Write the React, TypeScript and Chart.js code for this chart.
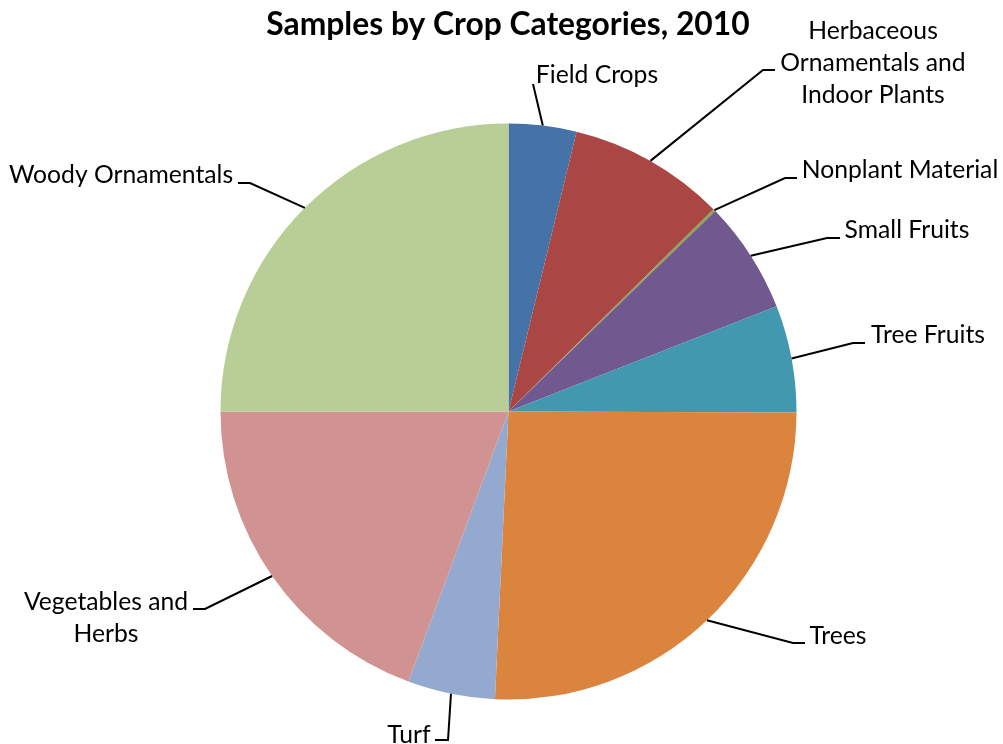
import React, { useEffect, useRef } from "react";
import { Chart, registerables } from "chart.js";

Chart.register(...registerables);

// Crop categories, in clockwise order from 12 o'clock
const categories = [
  "Field Crops",
  "Herbaceous Ornamentals and Indoor Plants",
  "Nonplant Material",
  "Small Fruits",
  "Tree Fruits",
  "Trees",
  "Turf",
  "Vegetables and Herbs",
  "Woody Ornamentals",
];

// Share of samples (%)
const sharePercent = [3.8, 8.8, 0.15, 6.3, 6.0, 25.7, 4.9, 19.35, 25.0];

const sliceColors = [
  "#4572A7",
  "#AA4643",
  "#89A54E",
  "#71588F",
  "#4198AF",
  "#DB843D",
  "#93A9CF",
  "#D19392",
  "#B9CD96",
];

// Label text, wrapped as drawn
const labelLines = [
  ["Field Crops"],
  ["Herbaceous", "Ornamentals and", "Indoor Plants"],
  ["Nonplant Material"],
  ["Small Fruits"],
  ["Tree Fruits"],
  ["Trees"],
  ["Turf"],
  ["Vegetables and", "Herbs"],
  ["Woody Ornamentals"],
];

// Label placement: text centre, leader-line bend and leader-line end
const labelLayout = [
  { x: 597, y: 75, bend: [533, 84], end: [533, 84] },
  { x: 873, y: 63, bend: [763, 70], end: [775, 70] },
  { x: 900, y: 170, bend: [785, 178], end: [797, 178] },
  { x: 907, y: 230, bend: [827, 238], end: [840, 238] },
  { x: 928, y: 335, bend: [853, 343], end: [865, 343] },
  { x: 838, y: 636, bend: [793, 643], end: [805, 643] },
  { x: 409, y: 735, bend: [448, 740], end: [435, 740] },
  { x: 106, y: 618, bend: [205, 609], end: [193, 609] },
  { x: 121, y: 175, bend: [250, 183], end: [238, 183] },
];

const TITLE = "Samples by Crop Categories, 2010";
const FONT = "Lato, 'Open Sans', sans-serif";
const LABEL_SIZE = 24.7;
const LINE_GAP = 32;

const leaderLabels = {
  id: "leaderLabels",
  afterDraw(chart: Chart) {
    const ctx = chart.ctx;
    const meta = chart.getDatasetMeta(0);
    ctx.save();

    // title
    ctx.fillStyle = "#000";
    ctx.font = `bold 31.8px ${FONT}`;
    ctx.textAlign = "center";
    ctx.textBaseline = "middle";
    ctx.fillText(TITLE, 508, 25);

    meta.data.forEach((el: any, i: number) => {
      const { x, y, startAngle, endAngle, outerRadius } = el.getProps(
        ["x", "y", "startAngle", "endAngle", "outerRadius"],
        true
      );
      const mid = (startAngle + endAngle) / 2;
      const sx = x + Math.cos(mid) * outerRadius;
      const sy = y + Math.sin(mid) * outerRadius;
      const lay = labelLayout[i];

      ctx.strokeStyle = "#000";
      ctx.lineWidth = 2;
      ctx.beginPath();
      ctx.moveTo(sx, sy);
      ctx.lineTo(lay.bend[0], lay.bend[1]);
      ctx.lineTo(lay.end[0], lay.end[1]);
      ctx.stroke();

      ctx.font = `${LABEL_SIZE}px ${FONT}`;
      ctx.textAlign = "center";
      ctx.textBaseline = "middle";
      const lines = labelLines[i];
      const top = lay.y - ((lines.length - 1) * LINE_GAP) / 2;
      lines.forEach((t, k) => ctx.fillText(t, lay.x, top + k * LINE_GAP));
    });
    ctx.restore();
  },
};

export default function App() {
  const ref = useRef<HTMLCanvasElement>(null);

  useEffect(() => {
    if (!ref.current) return;
    const chart = new Chart(ref.current, {
      type: "pie",
      data: {
        labels: categories,
        datasets: [
          {
            data: sharePercent,
            backgroundColor: sliceColors,
            borderWidth: 0,
          },
        ],
      },
      options: {
        responsive: false,
        animation: false,
        layout: {
          padding: { left: 220.5, right: 206.5, top: 123.5, bottom: 44.5 },
        },
        plugins: {
          legend: { display: false },
          title: { display: false },
          tooltip: { enabled: false },
        },
      },
      plugins: [leaderLabels],
    });
    return () => chart.destroy();
  }, []);

  return (
    <div style={{ position: "absolute", left: 0, top: 0, width: 1003, height: 744, background: "#fff" }}>
      <canvas ref={ref} width={1003} height={744} />
    </div>
  );
}
